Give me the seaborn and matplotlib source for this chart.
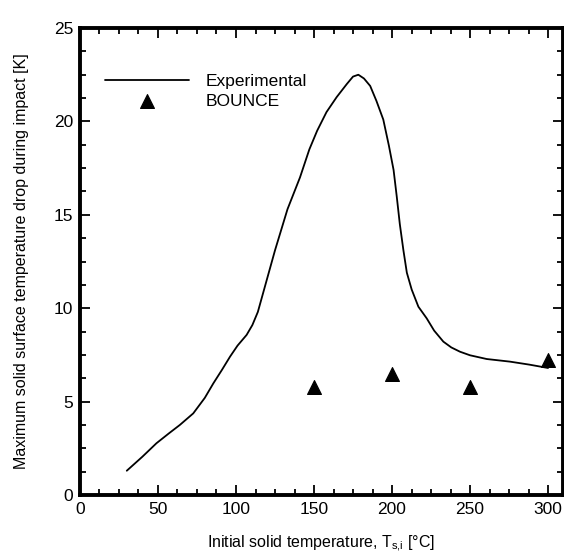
import numpy as np
import pandas as pd
import matplotlib
matplotlib.use("Agg")
import matplotlib.pyplot as plt
from matplotlib.ticker import MultipleLocator
import seaborn as sns

# experimental curve
exp_temp = [30, 40, 49, 57, 64, 72.6, 80, 85.5, 91, 96.2, 101, 106.8, 110.5, 114, 118, 125,
            133, 141, 147, 152, 158, 164.5, 171, 175, 178.4, 182, 186, 190, 194.4, 198,
            201, 203, 205, 207.3, 209.5, 212.6, 216.9, 222.2, 227, 232.9, 238, 243.6,
            250, 260.7, 275.6, 288, 300]
exp_drop = [1.3, 2.05, 2.77, 3.3, 3.75, 4.37, 5.2, 5.98, 6.7, 7.41, 8.0, 8.57, 9.1, 9.8, 11.0, 13.1,
            15.3, 17.0, 18.5, 19.5, 20.5, 21.3, 22.0, 22.4, 22.5, 22.3, 21.9, 21.1, 20.1, 18.7,
            17.4, 16.0, 14.5, 13.1, 11.9, 11.0, 10.08, 9.46, 8.8, 8.21, 7.9, 7.67,
            7.48, 7.28, 7.14, 6.98, 6.8]

# BOUNCE model points
bounce_temp = [150, 200, 250, 300]
bounce_drop = [5.8, 6.5, 5.8, 7.25]

sns.set_style("ticks")
plt.rcParams["font.family"] = ["Liberation Sans", "DejaVu Sans"]
plt.rcParams["mathtext.fontset"] = "custom"
plt.rcParams["mathtext.rm"] = "Liberation Sans"
plt.rcParams["text.color"] = "black"
plt.rcParams["axes.labelcolor"] = "black"
plt.rcParams["xtick.color"] = "black"
plt.rcParams["ytick.color"] = "black"

fig = plt.figure(figsize=(5.64, 5.55), dpi=100)
ax = fig.add_axes([0.1418, 0.1081, 0.8562, 0.8414])

exp_df = pd.DataFrame({"T": exp_temp, "dT": exp_drop})
bounce_df = pd.DataFrame({"T": bounce_temp, "dT": bounce_drop})

sns.lineplot(data=exp_df, x="T", y="dT", ax=ax, color="black", linewidth=1.3,
             sort=False, label="Experimental")
sns.scatterplot(data=bounce_df, x="T", y="dT", ax=ax, color="black", marker="^",
                s=100, edgecolor="black", label="BOUNCE")

ax.set_xlim(0, 309.5)
ax.set_ylim(0, 25)
ax.xaxis.set_major_locator(MultipleLocator(50))
ax.xaxis.set_minor_locator(MultipleLocator(12.5))
ax.yaxis.set_major_locator(MultipleLocator(5))
ax.yaxis.set_minor_locator(MultipleLocator(1.25))
ax.tick_params(which="both", direction="in", top=True, right=True, labelsize=12.5,
               width=1.3, pad=5)
ax.tick_params(which="major", length=7)
ax.tick_params(which="minor", length=4)
for sp in ax.spines.values():
    sp.set_linewidth(2.8)
    sp.set_edgecolor("black")
    sp.set_visible(True)

ax.set_xlabel(r"Initial solid temperature, T$_{\mathregular{s{,}i}}$ [°C]", fontsize=11.5,
              labelpad=12)
ax.set_ylabel("Maximum solid surface temperature drop during impact [K]", fontsize=11.5,
              labelpad=18)

ax.legend(loc="upper left", bbox_to_anchor=(0.02, 0.935), frameon=False, fontsize=12.5,
          handlelength=4.8, handletextpad=1.0, labelspacing=0.25)

fig.savefig("out.png", dpi=100)
